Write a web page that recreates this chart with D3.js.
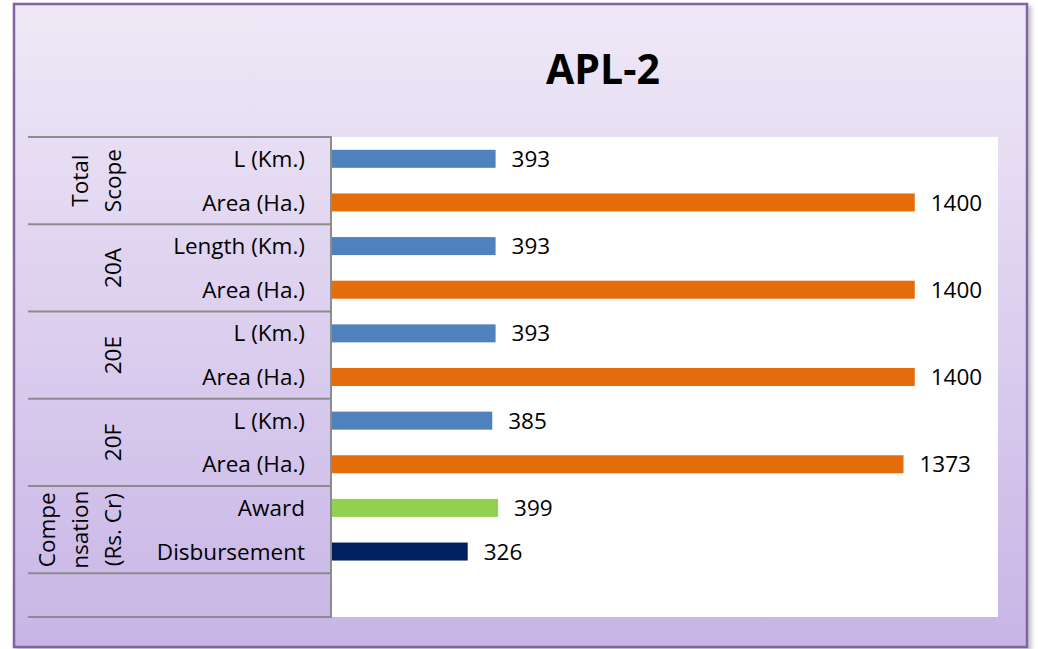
<!DOCTYPE html>
<html>
<head>
<meta charset="utf-8">
<script src="https://cdn.jsdelivr.net/npm/d3@7"></script>
<style>
  body { margin: 0; background: #fff; }
  svg { display: block; font-family: "Open Sans", sans-serif; }
</style>
</head>
<body>
<div id="chart"></div>
<script>
// APL-2 grouped horizontal bar chart

const title = "APL-2";
const groups = [
  ["Total", "Scope"],
  ["20A"],
  ["20E"],
  ["20F"],
  ["Compe", "nsation", "(Rs. Cr)"],
  [""]
];
const categories = [
  "L (Km.)", "Area (Ha.)",
  "Length (Km.)", "Area (Ha.)",
  "L (Km.)", "Area (Ha.)",
  "L (Km.)", "Area (Ha.)",
  "Award", "Disbursement",
  ""
];
const values = [393, 1400, 393, 1400, 393, 1400, 385, 1373, 399, 326, null];
const kinds = ["len", "area", "len", "area", "len", "area", "len", "area", "award", "disb", null];
const groupSpans = [2, 2, 2, 2, 2, 1];

const colors = { len: "#4f81bd", area: "#e46c0a", award: "#92d050", disb: "#002060" };

const width = 1038, height = 649;
const frame = { left: 14, top: 4, right: 1027, bottom: 647 };
const plot = { left: 332, top: 137, right: 998, bottom: 617 };
const tableLeft = 28;
const fontSize = 22.5;

const svg = d3.select("#chart").append("svg")
  .attr("width", width)
  .attr("height", height);

const defs = svg.append("defs");
const grad = defs.append("linearGradient")
  .attr("id", "bg").attr("x1", 0).attr("y1", 0).attr("x2", 0).attr("y2", 1);
grad.append("stop").attr("offset", "0%").attr("stop-color", "#efe9f7");
grad.append("stop").attr("offset", "100%").attr("stop-color", "#c8b5e6");

const shadow = defs.append("filter").attr("id", "shadow")
  .attr("x", "-5%").attr("y", "-5%").attr("width", "110%").attr("height", "110%");
shadow.append("feDropShadow")
  .attr("dx", 3).attr("dy", 3).attr("stdDeviation", 2)
  .attr("flood-color", "#000").attr("flood-opacity", 0.25);

// frame
svg.append("rect")
  .attr("x", frame.left).attr("y", frame.top)
  .attr("width", frame.right - frame.left)
  .attr("height", frame.bottom - frame.top)
  .attr("fill", "url(#bg)")
  .attr("stroke", "#8064a2")
  .attr("stroke-width", 2.5)
  .attr("filter", "url(#shadow)");

// plot background
svg.append("rect")
  .attr("x", plot.left).attr("y", plot.top)
  .attr("width", plot.right - plot.left)
  .attr("height", plot.bottom - plot.top)
  .attr("fill", "#fff");

svg.append("text")
  .attr("x", 603).attr("y", 84)
  .attr("text-anchor", "middle")
  .attr("font-size", 41)
  .attr("font-weight", 700)
  .attr("fill", "#000")
  .text(title);

const x = d3.scaleLinear().domain([0, 1600]).range([plot.left, plot.right]);
const slot = d3.scaleBand()
  .domain(d3.range(categories.length))
  .range([plot.top, plot.bottom]);

const rows = categories.map((c, i) => ({ cat: c, value: values[i], kind: kinds[i], i }));
const bars = rows.filter(d => d.value != null);

svg.append("g").selectAll("rect")
  .data(bars)
  .join("rect")
  .attr("x", x(0))
  .attr("y", d => slot(d.i) + slot.bandwidth() / 2 - 9)
  .attr("height", 18)
  .attr("width", d => x(d.value) - x(0))
  .attr("fill", d => colors[d.kind]);

svg.append("g").selectAll("text")
  .data(bars)
  .join("text")
  .attr("x", d => x(d.value) + 16)
  .attr("y", d => slot(d.i) + slot.bandwidth() / 2)
  .attr("dy", "0.36em")
  .attr("font-size", fontSize)
  .attr("fill", "#000")
  .text(d => d.value);

// category labels
svg.append("g").selectAll("text")
  .data(rows)
  .join("text")
  .attr("x", 305)
  .attr("y", d => slot(d.i) + slot.bandwidth() / 2)
  .attr("dy", "0.36em")
  .attr("text-anchor", "end")
  .attr("font-size", fontSize)
  .attr("fill", "#000")
  .text(d => d.cat);

// group boundaries
let acc = 0;
const groupRows = groups.map((g, k) => {
  const start = acc;
  acc += groupSpans[k];
  return { lines: g, y0: slot(start), y1: slot(acc - 1) + slot.bandwidth() };
});

const edges = [plot.top].concat(groupRows.map(g => g.y1));
svg.append("g").selectAll("line")
  .data(edges)
  .join("line")
  .attr("x1", tableLeft).attr("x2", plot.left)
  .attr("y1", d => d).attr("y2", d => d)
  .attr("stroke", "#8c8c8c")
  .attr("stroke-width", 2);

svg.append("line")
  .attr("x1", plot.left - 1).attr("x2", plot.left - 1)
  .attr("y1", plot.top).attr("y2", plot.bottom)
  .attr("stroke", "#8c8c8c")
  .attr("stroke-width", 2);

// rotated group labels, last line sits at x = 113
const lineGap = 33;
const gl = svg.append("g").selectAll("g")
  .data(groupRows)
  .join("g")
  .attr("transform", d => `translate(113,${(d.y0 + d.y1) / 2})`);

gl.selectAll("text")
  .data(d => d.lines.map((t, j) => ({ t, off: (j - (d.lines.length - 1)) * lineGap })))
  .join("text")
  .attr("transform", d => `translate(${d.off},0) rotate(-90)`)
  .attr("text-anchor", "middle")
  .attr("dy", "0.36em")
  .attr("font-size", fontSize)
  .attr("fill", "#000")
  .text(d => d.t);
</script>
</body>
</html>
